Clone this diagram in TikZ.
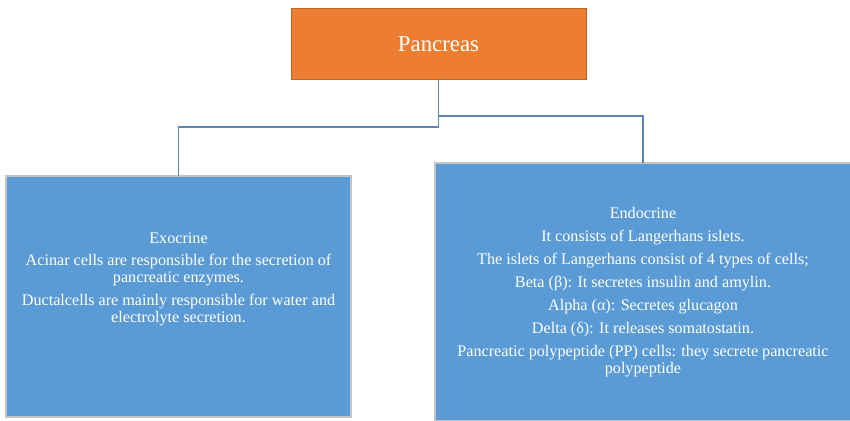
\documentclass[tikz,border=0pt]{standalone}
\usepackage{fontspec}
\setmainfont{Liberation Serif}
\usepackage{xcolor}
\usepackage{tikz}
\usetikzlibrary{positioning,calc}
\definecolor{rootorange}{HTML}{ED7D31}
\definecolor{rootedge}{HTML}{C0651F}
\definecolor{leafblue}{HTML}{5B9BD5}
\definecolor{leafedge}{HTML}{C4C4C4}
\definecolor{linkblue}{HTML}{5E86B2}
\tikzset{
  rootbox/.style={rectangle, draw=rootedge, fill=rootorange, line width=0.5pt, outer sep=0pt,
                  text=white, align=center, font=\fontsize{13}{15}\selectfont},
  leafbox/.style={rectangle, draw=leafedge, fill=leafblue, line width=1pt, outer sep=0pt,
                  text=white, align=center, font=\fontsize{9.2}{9.6}\selectfont},
  leaftext/.style={text=white, align=center, inner sep=0pt, font=\fontsize{9.2}{9.6}\selectfont},
  link/.style={line width=1.1pt, draw=linkblue},
}
\begin{document}
\begin{tikzpicture}[x=0.02cm, y=-0.02cm]
\useasboundingbox (0,0) rectangle (850,420);
\node[rootbox, minimum width=5.9cm, minimum height=1.42cm] (pancreas) at (438.5,43.75) {Pancreas};
\node[leafbox, minimum width=6.9cm, minimum height=4.82cm] (exocrine) at (178.5,296.5) {};
\node[leaftext] (exotext) at (178.5,279.5) {Exocrine\\[3pt]
  Acinar cells are responsible for the secretion of\\ pancreatic enzymes.\\[3.5pt]
  Ductalcells are mainly responsible for water and\\ electrolyte secretion.};
\node[leafbox, minimum width=8.32cm, minimum height=5.16cm] (endocrine) at (643,292) {Endocrine\\[3.5pt]
  It consists of Langerhans islets.\\[3.5pt]
  The islets of Langerhans consist of 4 types of cells;\\[3.5pt]
  Beta (β): It secretes insulin and amylin.\\[3.5pt]
  Alpha (α): Secretes glucagon\\[3.5pt]
  Delta (δ): It releases somatostatin.\\[3.5pt]
  Pancreatic polypeptide (PP) cells: they secrete pancreatic\\ polypeptide};
\draw[link] (pancreas.south) -- ++(0,47.5) -| (exocrine.north);
\draw[link] (pancreas.south) -- ++(0,37) -| (endocrine.north);
\end{tikzpicture}
\end{document}
